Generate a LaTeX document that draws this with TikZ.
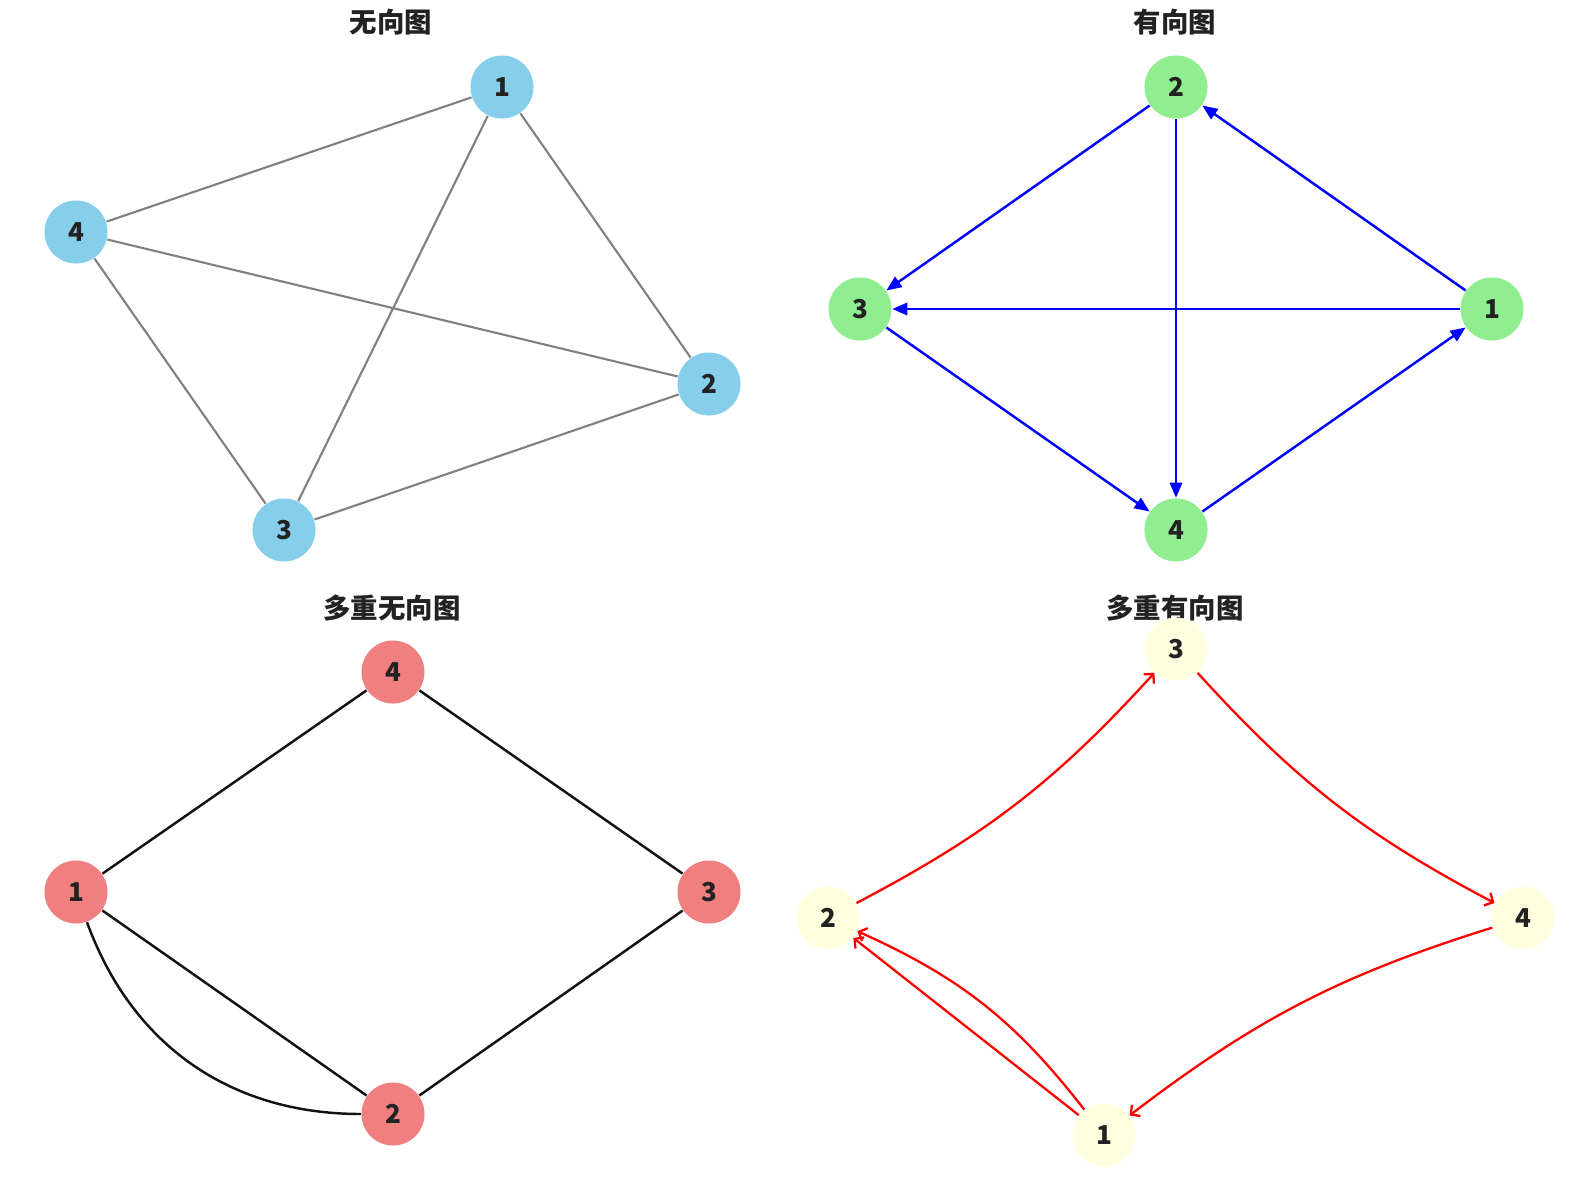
\documentclass[tikz,border=0pt]{standalone}
\usepackage{fontspec}
\setmainfont{Noto Sans CJK SC}
\usetikzlibrary{positioning,calc,arrows.meta}
\definecolor{skyblue}{HTML}{87CEEB}
\definecolor{lightgreen}{HTML}{90EE90}
\definecolor{lightcoral}{HTML}{F08080}
\definecolor{lightyellow}{HTML}{FFFFE0}
\definecolor{txtdark}{HTML}{222222}

\begin{document}
\begin{tikzpicture}[x=0.01cm,y=-0.01cm,
  vtx/.style={circle,minimum size=0.63cm,inner sep=0pt,text=txtdark,
    font=\fontsize{7.4}{9}\selectfont\bfseries},
  ttl/.style={text=txtdark,font=\fontsize{7.8}{9}\selectfont\bfseries},
  gedge/.style={gray,line width=0.6pt},
  dedge/.style={blue,line width=0.7pt,-{Triangle[length=4.3pt,width=3.5pt]}},
  medge/.style={black!93,line width=0.7pt},
  redge/.style={red,line width=0.65pt,-{Straight Barb[length=1.9pt,width=4pt]}}]
  \useasboundingbox (0,0) rectangle (1584,1184);

  % 无向图
  \node[ttl] (t1) at (391,22) {无向图};
  \node[vtx,fill=skyblue] (a1) at (502,87) {1};
  \node[vtx,fill=skyblue] (a2) at (709,384) {2};
  \node[vtx,fill=skyblue] (a3) at (284,530) {3};
  \node[vtx,fill=skyblue] (a4) at (76,232) {4};
  \draw[gedge] (a1) -- (a4);
  \draw[gedge] (a1) -- (a3);
  \draw[gedge] (a1) -- (a2);
  \draw[gedge] (a4) -- (a2);
  \draw[gedge] (a4) -- (a3);
  \draw[gedge] (a3) -- (a2);

  % 有向图
  \node[ttl] (t2) at (1175,22) {有向图};
  \node[vtx,fill=lightgreen] (b1) at (1492,309) {1};
  \node[vtx,fill=lightgreen] (b2) at (1176,87) {2};
  \node[vtx,fill=lightgreen] (b3) at (860,309) {3};
  \node[vtx,fill=lightgreen] (b4) at (1176,530) {4};
  \draw[dedge] (b2) -- (b3);
  \draw[dedge] (b2) -- (b4);
  \draw[dedge] (b1) -- (b2);
  \draw[dedge] (b1) -- (b3);
  \draw[dedge] (b3) -- (b4);
  \draw[dedge] (b4) -- (b1);

  % 多重无向图
  \node[ttl] (t3) at (392,608) {多重无向图};
  \node[vtx,fill=lightcoral] (c1) at (76,892) {1};
  \node[vtx,fill=lightcoral] (c2) at (393,1114) {2};
  \node[vtx,fill=lightcoral] (c3) at (709,892) {3};
  \node[vtx,fill=lightcoral] (c4) at (393,672) {4};
  \draw[medge] (c1) -- (c4);
  \draw[medge] (c4) -- (c3);
  \draw[medge] (c3) -- (c2);
  \draw[medge] (c1) -- (c2);
  \draw[medge] (c1) to[bend right=35] (c2);

  % 多重有向图
  \node[ttl] (t4) at (1175,608) {多重有向图};
  \node[vtx,fill=lightyellow] (d1) at (1104,1135) {1};
  \node[vtx,fill=lightyellow] (d2) at (828,918) {2};
  \node[vtx,fill=lightyellow] (d3) at (1176,649) {3};
  \node[vtx,fill=lightyellow] (d4) at (1523,918) {4};
  \draw[redge] (d2) to[bend right=10] (d3);
  \draw[redge] (d3) to[bend right=10] (d4);
  \draw[redge] (d4) to[bend right=10] (d1);
  \draw[redge] (d1) to[bend right=14] (d2);
  \draw[redge] (d1) -- (d2);
\end{tikzpicture}
\end{document}
